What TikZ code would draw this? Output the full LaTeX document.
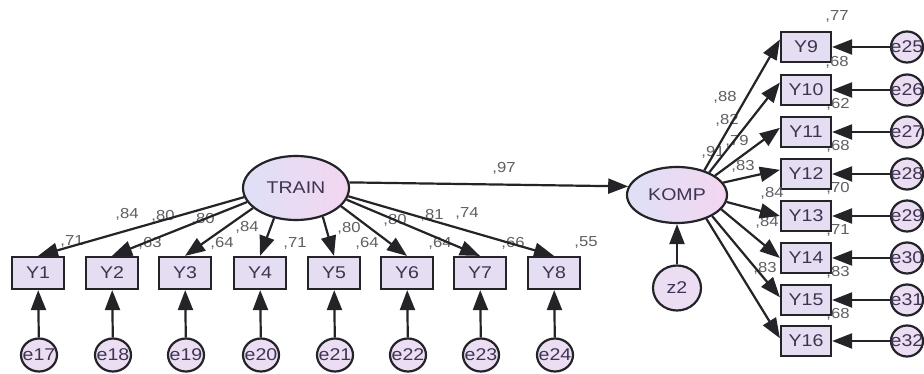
\documentclass[tikz,border=0pt]{standalone}
\usepackage{fontspec}
\setmainfont{Liberation Sans}[FakeStretch=1.15]
\usetikzlibrary{arrows.meta,shapes.geometric}

\definecolor{latL}{RGB}{222,224,246}
\definecolor{latR}{RGB}{243,214,240}
\definecolor{boxfill}{RGB}{229,221,241}
\definecolor{errfill}{RGB}{235,222,243}
\definecolor{edgecol}{RGB}{35,35,40}
\definecolor{nametext}{RGB}{62,52,82}
\definecolor{numtext}{RGB}{95,95,100}

\begin{document}
\begin{tikzpicture}[x=1pt,y=-1pt,
  latent/.style={ellipse, draw=edgecol, line width=2.2pt, left color=latL, right color=latR,
    text=nametext, font=\fontsize{17}{17}\selectfont, inner sep=0pt},
  obs/.style={rectangle, draw=edgecol, line width=2.2pt, fill=boxfill,
    text=nametext, font=\fontsize{17}{17}\selectfont, inner sep=0pt},
  bobs/.style={obs, minimum width=52pt, minimum height=32pt},
  robs/.style={obs, minimum width=50pt, minimum height=30pt},
  err/.style={ellipse, draw=edgecol, line width=2.2pt, fill=errfill,
    text=nametext, font=\fontsize{17}{17}\selectfont, inner sep=0pt},
  coef/.style={text=numtext, font=\fontsize{14.5}{14.5}\selectfont, inner sep=0pt},
  regr/.style={draw=edgecol, line width=2.2pt, -{Triangle[length=20pt,width=15pt]}},
]
\useasboundingbox[fill=white] (0,0) rectangle (924,374);

% latent variables
\node[latent, minimum width=106pt, minimum height=64pt] (TRAIN) at (296,188) {TRAIN};
\node[latent, minimum width=100pt, minimum height=56pt] (KOMP) at (677,195) {KOMP};
\node[err, minimum width=48pt, minimum height=45pt] (z2) at (677,288) {z2};

% indicators of TRAIN with their error terms (labels may spill over the circle)
\foreach \i/\x/\e in {1/38/17,2/112/18,3/185/19,4/260/20,5/334/21,6/407/22,7/480/23,8/554/24}{
  \node[bobs] (Y\i) at (\x,273) {Y\i};
  \node[err, minimum width=36pt, minimum height=33pt] (e\e) at (\x+1,355) {\makebox[0pt]{e\e}};
}

% indicators of KOMP with their error terms
\foreach \i/\y/\e in {9/47/25,10/90/26,11/132/27,12/174/28,13/216/29,14/258/30,15/300/31,16/341/32}{
  \node[robs] (Y\i) at (806,\y) {Y\i};
  \node[err, minimum width=32pt, minimum height=31pt] (e\e) at (907,\y) {\makebox[0pt]{e\e}};
}

% coefficients: TRAIN side
\node[coef] (c1) at (127,214) {,84};
\node[coef] (c2) at (163,216) {,80};
\node[coef] (c3) at (203,219) {,80};
\node[coef] (c4) at (247,227) {,84};
\node[coef] (c5) at (349,228) {,80};
\node[coef] (c6) at (395,220) {,80};
\node[coef] (c7) at (432,215) {,81};
\node[coef] (c8) at (467,213) {,74};
\node[coef] (r1) at (72,241) {,71};
\node[coef] (r2) at (150,243) {,63};
\node[coef] (r3) at (222,243) {,64};
\node[coef] (r4) at (295,243) {,71};
\node[coef] (r5) at (367,243) {,64};
\node[coef] (r6) at (440,243) {,64};
\node[coef] (r7) at (513,243) {,66};
\node[coef] (r8) at (586,242) {,55};
\node[coef] (b1) at (504,168) {,97};

% coefficients: KOMP side
\node[coef] (r9)  at (837,16)  {,77};
\node[coef] (r10) at (837,62)  {,68};
\node[coef] (r11) at (838,104) {,62};
\node[coef] (r12) at (838,146) {,68};
\node[coef] (r13) at (838,188) {,70};
\node[coef] (r14) at (838,230) {,71};
\node[coef] (r15) at (838,272) {,83};
\node[coef] (r16) at (838,314) {,68};
\node[coef] (c9)  at (725,97)  {,88};
\node[coef] (c10) at (727,120) {,82};
\node[coef] (c11) at (737,141) {,79};
\node[coef] (c12) at (713,152) {,91};
\node[coef] (c13) at (743,166) {,83};
\node[coef] (c14) at (772,193) {,84};
\node[coef] (c15) at (767,222) {,84};
\node[coef] (c16) at (765,268) {,83};

% structural path and disturbance
\draw[regr] (TRAIN.6) -- (KOMP.170);
\draw[regr] (z2) -- (KOMP);

% loadings of TRAIN
\draw[regr] (TRAIN.190) -- (Y1.north);
\draw[regr] (TRAIN.196) -- (Y2.north);
\draw[regr] (TRAIN.205) -- (Y3.north);
\draw[regr] (TRAIN.234) -- (Y4.north);
\draw[regr] (TRAIN.313) -- (Y5.north);
\draw[regr] (TRAIN.338) -- (Y6.north);
\draw[regr] (TRAIN.347) -- (Y7.north);
\draw[regr] (TRAIN.351) -- (Y8.north);

% loadings of KOMP
\draw[regr] (KOMP.42)   -- (Y9.164);
\draw[regr] (KOMP.35)   -- (Y10.164);
\draw[regr] (KOMP.27)   -- (Y11.171);
\draw[regr] (KOMP.15)   -- (Y12.171);
\draw[regr] (KOMP.-8)   -- (Y13.west);
\draw[regr] (KOMP.-18)  -- (Y14.west);
\draw[regr] (KOMP.-31)  -- (Y15.174);
\draw[regr] (KOMP.-39)  -- (Y16.174);

% error terms
\foreach \i/\e in {1/17,2/18,3/19,4/20,5/21,6/22,7/23,8/24,9/25,10/26,11/27,12/28,13/29,14/30,15/31,16/32}{
  \draw[regr] (e\e) -- (Y\i);
}
\end{tikzpicture}
\end{document}
